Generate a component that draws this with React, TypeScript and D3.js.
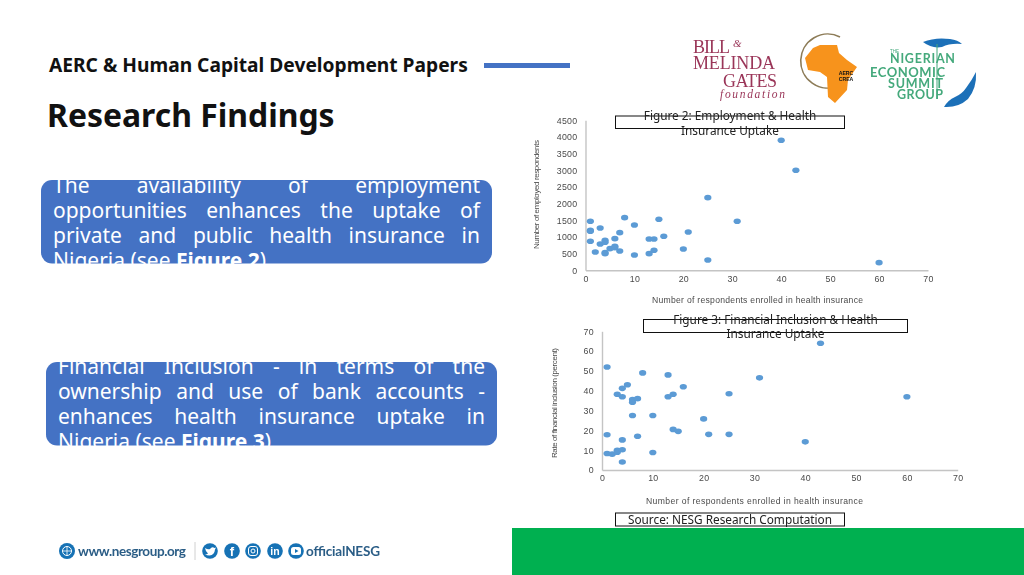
import React, { useEffect, useRef } from "react";
import * as d3 from "d3";

const enrolled2 = [1,1,1,1,2,3,3,4,4,4,4,5,6,6,6,7,7,8,10,10,13,13,14,14,15,16,20,21,25,25,31,40,43,60];
const employed = [1470,1200,1170,870,550,1270,790,900,840,530,500,650,950,720,680,1130,580,1580,1360,460,940,500,940,600,1530,1020,640,1150,2180,310,1470,3900,3000,230];
const enrolled3 = [1,1,1,2,3,3,3,4,4,4,4,4,5,6,6,6,7,7,8,10,10,13,13,14,14,15,16,20,21,25,25,31,40,43,60];
const inclusion = [52,17.8,8.3,8,38.2,10,9,41.2,37,15.2,10.2,4,43,35.5,34.2,27.5,36,17,49,27.5,8.8,48,37,38.2,20.5,19.5,42,25.8,18,38.5,18,46.5,14.2,64,37];
const xTicks = [0,10,20,30,40,50,60,70];
const y2Ticks = [0,500,1000,1500,2000,2500,3000,3500,4000,4500];
const y3Ticks = [0,10,20,30,40,50,60,70];

const FONT = "'Noto Sans', sans-serif";
const CHART_FONT = "'Liberation Sans', Arial, sans-serif";

function Scatter({ xs, ys, yTicks, yMax, x0, x1, y0, y1, xTitle, yTitle, xTitleBox, yTitleBox }: any) {
  const xAxisRef = useRef<SVGGElement>(null);
  const yAxisRef = useRef<SVGGElement>(null);
  const x = d3.scaleLinear().domain([0, 70]).range([x0, x1]);
  const y = d3.scaleLinear().domain([0, yMax]).range([y0, y1]);
  useEffect(() => {
    const style = (g: any) => {
      g.select(".domain").attr("stroke", "#c4c4c4").attr("stroke-width", 1.4);
      g.selectAll("text").attr("fill", "#4a4a4a").attr("font-family", CHART_FONT).attr("font-size", 8.8).attr("letter-spacing", 0.3);
    };
    d3.select(xAxisRef.current!).call(d3.axisBottom(x).tickValues(xTicks).tickSize(0).tickPadding(5).tickFormat(d3.format("d")) as any).call(style);
    d3.select(yAxisRef.current!).call(d3.axisLeft(y).tickValues(yTicks).tickSize(0).tickPadding(8).tickFormat(d3.format("d")) as any).call(style);
  }, []);
  return (
    <g filter="url(#soft)">
      <g ref={xAxisRef} transform={`translate(0,${y0})`} />
      <g ref={yAxisRef} transform={`translate(${x0},0)`} />
      {xs.map((d: number, i: number) => (
        <ellipse key={i} cx={x(d)} cy={y(ys[i])} rx={3.6} ry={2.8} fill="#5B9BD5" />
      ))}
      <text x={xTitleBox[0]} y={xTitleBox[2]} textLength={xTitleBox[1] - xTitleBox[0]} fontFamily={CHART_FONT} fontSize={8.6} fill="#4a4a4a">{xTitle}</text>
      <text transform={`translate(${yTitleBox[0]},${yTitleBox[1]}) rotate(-90)`} textLength={yTitleBox[1] - yTitleBox[2]} fontFamily={CHART_FONT} fontSize={8} fill="#4a4a4a">{yTitle}</text>
    </g>
  );
}

const measure = (() => {
  let ctx: CanvasRenderingContext2D | null = null;
  return (s: string, font: string) => {
    if (!ctx) ctx = document.createElement("canvas").getContext("2d");
    ctx!.font = font;
    return ctx!.measureText(s).width;
  };
})();

type Word = { t: string; b?: boolean };

function JustLine({ words, x0, x1, y, justify = true }: { words: Word[]; x0: number; x1: number; y: number; justify?: boolean }) {
  const size = 21;
  const widths = words.map((w) => measure(w.t, `${w.b ? "bold " : ""}${size}px 'Noto Sans'`));
  const total = d3.sum(widths);
  const space = measure(" ", `${size}px 'Noto Sans'`);
  const gap = justify && words.length > 1 ? (x1 - x0 - total) / (words.length - 1) : space;
  let cx = x0;
  return (
    <g>
      {words.map((w, i) => {
        const px = cx;
        cx += widths[i] + (words[i + 1]?.t === ")" ? 0 : gap);
        return (
          <text key={i} x={px} y={y} fontFamily={FONT} fontSize={size} fontWeight={w.b ? 700 : 400} fill="#fff">{w.t}</text>
        );
      })}
    </g>
  );
}

const w = (s: string): Word[] => s.split(" ").map((t) => ({ t }));

function Panel({ px, py, dy, lines }: { px: number; py: number; dy: number; lines: Word[][] }) {
  return (
    <g>
      <rect x={px} y={py} width={451} height={83.5} rx={11} fill="#4472C4" />
      {lines.map((l, i) => (
        <JustLine key={i} words={l} x0={px + 12} x1={px + 439} y={py + dy + i * 25.3} justify={i < 3} />
      ))}
    </g>
  );
}

function BoxTitle({ x0, x1, y0, y1, lines, ys }: any) {
  return (
    <g>
      <rect x={x0} y={y0} width={x1 - x0} height={y1 - y0} fill="#fff" stroke="#111" strokeWidth={1} />
      {lines.map((l: string, i: number) => (
        <text key={i} x={(x0 + x1) / 2} y={ys[i]} textAnchor="middle" fontFamily={FONT} fontSize={11.8} fill="#222">{l}</text>
      ))}
    </g>
  );
}

function Logos() {
  const maroon = "#9a3558";
  const green = "#45a97c";
  const serif = "'Liberation Serif', serif";
  const sans = "Lato, sans-serif";
  return (
    <g filter="url(#soft)">
      <text x={693} y={53} fontFamily={serif} fontSize={18} fill={maroon} textLength={37}>BILL</text>
      <text x={733} y={47} fontFamily={serif} fontSize={11} fontStyle="italic" fill={maroon}>&amp;</text>
      <text x={693} y={69} fontFamily={serif} fontSize={18} fill={maroon} textLength={82}>MELINDA</text>
      <text x={723} y={87} fontFamily={serif} fontSize={18} fill={maroon} textLength={54}>GATES</text>
      <text x={720} y={97.5} fontFamily={serif} fontSize={11.5} fontStyle="italic" fill={maroon} textLength={65}>foundation</text>

      <path d="M840 37 A27 27 0 1 0 838 86" fill="none" stroke="#8d7c58" strokeWidth={1.6} />
      <path d="M820 45 L837 45 L839 53 L847 60 L857 67 L848 80 L847 90 L835 103 L828 97 L827 77 L820 72 L808 70 L805 58 L813 48 Z" fill="#F7931E" />
      <text x={846} y={75} textAnchor="middle" fontFamily={CHART_FONT} fontSize={5.2} fontWeight={700} fill="#111">AERC</text>
      <text x={846} y={81} textAnchor="middle" fontFamily={CHART_FONT} fontSize={5.2} fontWeight={700} fill="#111">CREA</text>

      <path d="M923 42 Q935 37 950 39 Q958 40 962 44 Q950 43 942 47 Q932 49 923 42 Z" fill="#1F70B8" />
      <path d="M976 72 Q977 88 968 99 Q958 108 944 107 Q948 100 955 97 Q962 94 966 88 Q972 80 976 72 Z" fill="#1F70B8" />
      <line x1={937} x2={937} y1={44} y2={99} stroke={green} strokeWidth={1} />
      <text x={890} y={53} fontFamily={CHART_FONT} fontSize={4.5} fill={green}>THE</text>
      <text x={890} y={63} fontFamily={sans} fontSize={12.5} fontWeight={700} fill={green} textLength={65}>NIGERIAN</text>
      <text x={870} y={76.5} fontFamily={sans} fontSize={13} fontWeight={700} fill={green} textLength={75}>ECONOMIC</text>
      <text x={888} y={87.5} fontFamily={sans} fontSize={12.5} fontWeight={700} fill={green} textLength={55}>SUMMIT</text>
      <text x={897} y={99} fontFamily={sans} fontSize={12.5} fontWeight={700} fill={green} textLength={46}>GROUP</text>
    </g>
  );
}

function Footer() {
  const blue = "#1672B5";
  const icons = [210, 232, 253, 275, 296];
  const cy = 551;
  return (
    <g filter="url(#soft)">
      <circle cx={67} cy={cy} r={8} fill={blue} />
      <circle cx={67} cy={cy} r={4.5} fill="none" stroke="#fff" strokeWidth={1} />
      <path d={`M62.5 ${cy} H71.5 M67 ${cy - 4.5} V${cy + 4.5}`} stroke="#fff" strokeWidth={0.8} />
      <text x={78} y={555.5} fontFamily="Lato, sans-serif" fontSize={13.5} fontWeight={700} fill="#2b5d86" textLength={108}>www.nesgroup.org</text>
      <line x1={195} x2={195} y1={542} y2={560} stroke="#d0d0d0" />
      {icons.map((c) => <circle key={c} cx={c} cy={cy} r={7.8} fill={blue} />)}
      <path d="M205 548 Q208 550 210 549 Q212 546 214.5 548 L216 547.5 L215 549.5 Q214.5 555 209.5 555.5 Q207 555.5 205 554.5 Q207 554.5 208 553.5 Q205.5 551.5 205 548 Z" fill="#fff" />
      <text x={232} y={556} textAnchor="middle" fontFamily={CHART_FONT} fontSize={13} fontWeight={700} fill="#fff">f</text>
      <rect x={248.5} y={546.5} width={9} height={9} rx={2.5} fill="none" stroke="#fff" strokeWidth={1} />
      <circle cx={253} cy={cy} r={2} fill="none" stroke="#fff" strokeWidth={1} />
      <text x={275} y={555} textAnchor="middle" fontFamily={CHART_FONT} fontSize={10.5} fontWeight={700} fill="#fff">in</text>
      <rect x={291} y={547} width={10} height={8} rx={2.5} fill="#fff" />
      <path d="M295 549 L298.5 551 L295 553 Z" fill={blue} />
      <text x={306} y={555.5} fontFamily="Lato, sans-serif" fontSize={13.5} fontWeight={700} fill="#2b5d86" textLength={74}>officialNESG</text>
    </g>
  );
}

export default function App() {
  return (
    <svg width={1024} height={575} viewBox="0 0 1024 575" style={{ position: "absolute", left: 0, top: 0, display: "block", background: "#fff" }}>
      <defs>
        <filter id="soft" x="-5%" y="-5%" width="110%" height="110%">
          <feGaussianBlur stdDeviation={0.42} />
        </filter>
      </defs>

      <text x={49} y={72} fontFamily={FONT} fontSize={19.2} fontWeight={700} fill="#111">AERC &amp; Human Capital Development Papers</text>
      <rect x={484} y={63} width={86} height={5} fill="#4472C4" />
      <text x={47} y={127} fontFamily={FONT} fontSize={31.9} fontWeight={700} fill="#111">Research Findings</text>

      <Logos />

      <Panel px={41} py={180} dy={12.5} lines={[
        w("The availability of employment"),
        w("opportunities enhances the uptake of"),
        w("private and public health insurance in"),
        [...w("Nigeria (see"), { t: "Figure 2", b: true }, { t: ")" }],
      ]} />
      <Panel px={46} py={362} dy={11.5} lines={[
        w("Financial Inclusion - in terms of the"),
        w("ownership and use of bank accounts -"),
        w("enhances health insurance uptake in"),
        [...w("Nigeria (see"), { t: "Figure 3", b: true }, { t: ")" }],
      ]} />

      <Scatter xs={enrolled2} ys={employed} yTicks={y2Ticks} yMax={4500} x0={585.5} x1={928} y0={270.3} y1={120.3}
        xTitle="Number of respondents enrolled in health insurance" yTitle="Number of employed respondents"
        xTitleBox={[652, 863, 303]} yTitleBox={[538.5, 249, 140]} />
      <Scatter xs={enrolled3} ys={inclusion} yTicks={y3Ticks} yMax={70} x0={602} x1={957.7} y0={470} y1={331.3}
        xTitle="Number of respondents enrolled in health insurance" yTitle="Rate of financial inclusion (percent)"
        xTitleBox={[646, 863, 504]} yTitleBox={[557, 458, 348]} />

      <BoxTitle x0={615.5} x1={844.5} y0={116} y1={128.5} lines={["Figure 2: Employment & Health", "Insurance Uptake"]} ys={[120, 134.5]} />
      <BoxTitle x0={643.5} x1={907.5} y0={319.5} y1={332.5} lines={["Figure 3: Financial Inclusion & Health", "Insurance Uptake"]} ys={[324, 338]} />
      <BoxTitle x0={615.5} x1={844.5} y0={513} y1={526} lines={["Source: NESG Research Computation"]} ys={[524]} />

      <Footer />
      <rect x={512} y={528} width={512} height={47} fill="#00B050" />
    </svg>
  );
}
